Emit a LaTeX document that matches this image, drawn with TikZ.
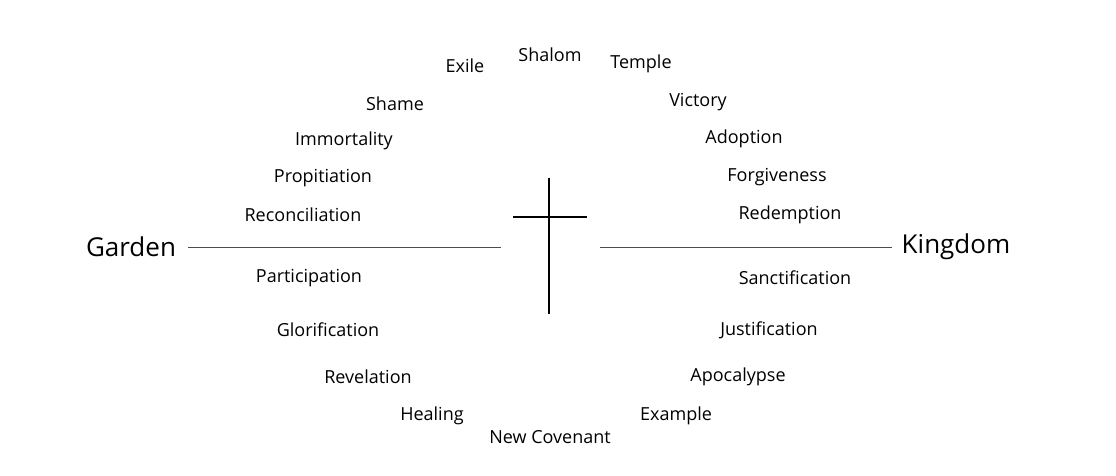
\documentclass[tikz,border=0pt]{standalone}
\usepackage{fontspec}
\setmainfont{Open Sans}
\begin{document}
\begin{tikzpicture}[x=1pt,y=-1pt,
  w/.style={font=\fontsize{18}{20}\selectfont, inner sep=0pt},
  big/.style={font=\fontsize{26}{28}\selectfont, inner sep=0pt},
  thin/.style={line width=0.7pt, draw=black!70},
  crossline/.style={line width=2.2pt}]
\useasboundingbox (0,0) rectangle (1116,476);
\node[w] (exile) at (465,66) {Exile};
\node[w] (shalom) at (550,55) {Shalom};
\node[w] (temple) at (641,64) {Temple};
\node[w] (shame) at (395,104) {Shame};
\node[w] (victory) at (698,102) {Victory};
\node[w] (immortality) at (344,141) {Immortality};
\node[w] (adoption) at (744,139) {Adoption};
\node[w] (propitiation) at (323,178) {Propitiation};
\node[w] (forgiveness) at (777,177) {Forgiveness};
\node[w] (reconciliation) at (303,215) {Reconciliation};
\node[w] (redemption) at (790,215) {Redemption};
\node[big] (garden) at (131,247) {Garden};
\node[big] (kingdom) at (956,247) {Kingdom};
\node[w] (participation) at (309,278) {Participation};
\node[w] (sanctification) at (795,278) {Sanctification};
\node[w] (glorification) at (328,330) {Glorification};
\node[w] (justification) at (769,330) {Justification};
\node[w] (revelation) at (368,377) {Revelation};
\node[w] (apocalypse) at (738,377) {Apocalypse};
\node[w] (healing) at (432,416) {Healing};
\node[w] (example) at (676,416) {Example};
\node[w] (newcov) at (550,437) {New Covenant};
\coordinate (lend) at (501,247);
\coordinate (rstart) at (600,247);
\draw[thin] ([xshift=12pt]garden.east) -- (lend);
\draw[thin] (rstart) -- ([xshift=-10pt]kingdom.west);
\coordinate (ctop) at (549,178);
\coordinate (cbot) at (549,314);
\coordinate (cl) at (513,217);
\coordinate (cr) at (587,217);
\draw[crossline] (ctop) -- (cbot);
\draw[crossline] (cl) -- (cr);
\end{tikzpicture}
\end{document}
